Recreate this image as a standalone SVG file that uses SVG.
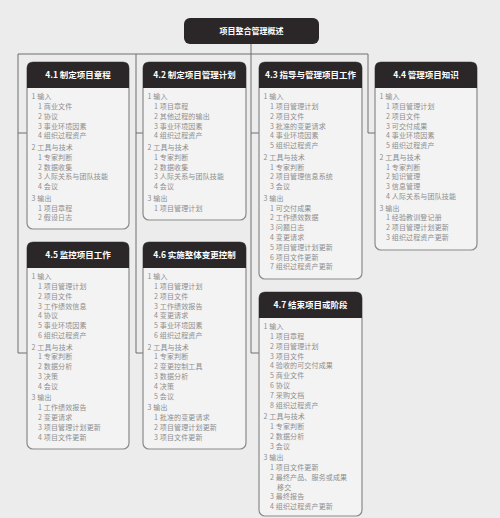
<svg xmlns="http://www.w3.org/2000/svg" width="500" height="518" viewBox="0 0 500 518">
<style>
.bg{fill:#ececec}
.body{fill:#f3f3f3;stroke:#8a8a8a;stroke-width:1.2}
.head{fill:#2b2628}
.ht{font-family:"Noto Sans CJK SC","Noto Sans",sans-serif;font-size:8.5px;font-weight:bold;fill:#ffffff;text-anchor:middle}
.tt{font-family:"Noto Sans CJK SC","Noto Sans",sans-serif;font-size:8px;font-weight:bold;fill:#ffffff;text-anchor:middle}
.t{font-family:"Noto Sans CJK SC","Noto Sans",sans-serif;font-size:7px;fill:#8e8e8e;letter-spacing:0.15px}
.conn{fill:none;stroke:#6e6e6e;stroke-width:1}
</style>
<rect class="bg" x="0" y="0" width="500" height="518"/>

<g id="connectors">
<path class="conn" d="M251,44V54M18,54H368"/>
<path class="conn" d="M18,54V353H27M18,133H27"/>
<path class="conn" d="M136,54V353H143M136,133H143"/>
<path class="conn" d="M251,54V353H259M251,133H259"/>
<path class="conn" d="M368,54V133H375"/>
</g>

<g id="title">
<rect class="head" x="184" y="18" width="135" height="26" rx="6"/>
<text class="tt" x="251.5" y="34">项目整合管理概述</text>
</g>

<g id="n41" transform="translate(27,62)">
<rect class="body" x="0" y="0" width="102" height="167" rx="6"/>
<path class="head" d="M0,26V6Q0,0 6,0H96Q102,0 102,6V26Z"/>
<text class="ht" x="51" y="16">4.1 制定项目章程</text>
<text class="t" x="4.5" y="37.2">1 输入</text>
<text class="t" x="11" y="47">1 商业文件</text>
<text class="t" x="11" y="56.8">2 协议</text>
<text class="t" x="11" y="66.6">3 事业环境因素</text>
<text class="t" x="11" y="76.4">4 组织过程资产</text>
<text class="t" x="4.5" y="88">2 工具与技术</text>
<text class="t" x="11" y="97.8">1 专家判断</text>
<text class="t" x="11" y="107.6">2 数据收集</text>
<text class="t" x="11" y="117.4">3 人际关系与团队技能</text>
<text class="t" x="11" y="127.2">4 会议</text>
<text class="t" x="4.5" y="138.8">3 输出</text>
<text class="t" x="11" y="148.6">1 项目章程</text>
<text class="t" x="11" y="158.4">2 假设日志</text>
</g>

<g id="n42" transform="translate(143,62)">
<rect class="body" x="0" y="0" width="103" height="158" rx="6"/>
<path class="head" d="M0,26V6Q0,0 6,0H97Q103,0 103,6V26Z"/>
<text class="ht" x="51.5" y="16">4.2 制定项目管理计划</text>
<text class="t" x="4.5" y="37.2">1 输入</text>
<text class="t" x="11" y="47">1 项目章程</text>
<text class="t" x="11" y="56.8">2 其他过程的输出</text>
<text class="t" x="11" y="66.6">3 事业环境因素</text>
<text class="t" x="11" y="76.4">4 组织过程资产</text>
<text class="t" x="4.5" y="88">2 工具与技术</text>
<text class="t" x="11" y="97.8">1 专家判断</text>
<text class="t" x="11" y="107.6">2 数据收集</text>
<text class="t" x="11" y="117.4">3 人际关系与团队技能</text>
<text class="t" x="11" y="127.2">4 会议</text>
<text class="t" x="4.5" y="138.8">3 输出</text>
<text class="t" x="11" y="148.6">1 项目管理计划</text>
</g>

<g id="n43" transform="translate(259,62)">
<rect class="body" x="0" y="0" width="103" height="217" rx="6"/>
<path class="head" d="M0,26V6Q0,0 6,0H97Q103,0 103,6V26Z"/>
<text class="ht" x="51.5" y="16">4.3 指导与管理项目工作</text>
<text class="t" x="4.5" y="37.2">1 输入</text>
<text class="t" x="11" y="47">1 项目管理计划</text>
<text class="t" x="11" y="56.8">2 项目文件</text>
<text class="t" x="11" y="66.6">3 批准的变更请求</text>
<text class="t" x="11" y="76.4">4 事业环境因素</text>
<text class="t" x="11" y="86.2">5 组织过程资产</text>
<text class="t" x="4.5" y="97.8">2 工具与技术</text>
<text class="t" x="11" y="107.6">1 专家判断</text>
<text class="t" x="11" y="117.4">2 项目管理信息系统</text>
<text class="t" x="11" y="127.2">3 会议</text>
<text class="t" x="4.5" y="138.8">3 输出</text>
<text class="t" x="11" y="148.6">1 可交付成果</text>
<text class="t" x="11" y="158.4">2 工作绩效数据</text>
<text class="t" x="11" y="168.2">3 问题日志</text>
<text class="t" x="11" y="178">4 变更请求</text>
<text class="t" x="11" y="187.8">5 项目管理计划更新</text>
<text class="t" x="11" y="197.6">6 项目文件更新</text>
<text class="t" x="11" y="207.4">7 组织过程资产更新</text>
</g>

<g id="n44" transform="translate(375,62)">
<rect class="body" x="0" y="0" width="102" height="188" rx="6"/>
<path class="head" d="M0,26V6Q0,0 6,0H96Q102,0 102,6V26Z"/>
<text class="ht" x="51" y="16">4.4 管理项目知识</text>
<text class="t" x="4.5" y="37.2">1 输入</text>
<text class="t" x="11" y="47">1 项目管理计划</text>
<text class="t" x="11" y="56.8">2 项目文件</text>
<text class="t" x="11" y="66.6">3 可交付成果</text>
<text class="t" x="11" y="76.4">4 事业环境因素</text>
<text class="t" x="11" y="86.2">5 组织过程资产</text>
<text class="t" x="4.5" y="97.8">2 工具与技术</text>
<text class="t" x="11" y="107.6">1 专家判断</text>
<text class="t" x="11" y="117.4">2 知识管理</text>
<text class="t" x="11" y="127.2">3 信息管理</text>
<text class="t" x="11" y="137">4 人际关系与团队技能</text>
<text class="t" x="4.5" y="148.6">3 输出</text>
<text class="t" x="11" y="158.4">1 经验教训登记册</text>
<text class="t" x="11" y="168.2">2 项目管理计划更新</text>
<text class="t" x="11" y="178">3 组织过程资产更新</text>
</g>

<g id="n45" transform="translate(27,242)">
<rect class="body" x="0" y="0" width="102" height="207" rx="6"/>
<path class="head" d="M0,26V6Q0,0 6,0H96Q102,0 102,6V26Z"/>
<text class="ht" x="51" y="16">4.5 监控项目工作</text>
<text class="t" x="4.5" y="37.2">1 输入</text>
<text class="t" x="11" y="47">1 项目管理计划</text>
<text class="t" x="11" y="56.8">2 项目文件</text>
<text class="t" x="11" y="66.6">3 工作绩效信息</text>
<text class="t" x="11" y="76.4">4 协议</text>
<text class="t" x="11" y="86.2">5 事业环境因素</text>
<text class="t" x="11" y="96">6 组织过程资产</text>
<text class="t" x="4.5" y="107.6">2 工具与技术</text>
<text class="t" x="11" y="117.4">1 专家判断</text>
<text class="t" x="11" y="127.2">2 数据分析</text>
<text class="t" x="11" y="137">3 决策</text>
<text class="t" x="11" y="146.8">4 会议</text>
<text class="t" x="4.5" y="158.4">3 输出</text>
<text class="t" x="11" y="168.2">1 工作绩效报告</text>
<text class="t" x="11" y="178">2 变更请求</text>
<text class="t" x="11" y="187.8">3 项目管理计划更新</text>
<text class="t" x="11" y="197.6">4 项目文件更新</text>
</g>

<g id="n46" transform="translate(143,242)">
<rect class="body" x="0" y="0" width="103" height="207" rx="6"/>
<path class="head" d="M0,26V6Q0,0 6,0H97Q103,0 103,6V26Z"/>
<text class="ht" x="51.5" y="16">4.6 实施整体变更控制</text>
<text class="t" x="4.5" y="37.2">1 输入</text>
<text class="t" x="11" y="47">1 项目管理计划</text>
<text class="t" x="11" y="56.8">2 项目文件</text>
<text class="t" x="11" y="66.6">3 工作绩效报告</text>
<text class="t" x="11" y="76.4">4 变更请求</text>
<text class="t" x="11" y="86.2">5 事业环境因素</text>
<text class="t" x="11" y="96">6 组织过程资产</text>
<text class="t" x="4.5" y="107.6">2 工具与技术</text>
<text class="t" x="11" y="117.4">1 专家判断</text>
<text class="t" x="11" y="127.2">2 变更控制工具</text>
<text class="t" x="11" y="137">3 数据分析</text>
<text class="t" x="11" y="146.8">4 决策</text>
<text class="t" x="11" y="156.6">5 会议</text>
<text class="t" x="4.5" y="168.2">3 输出</text>
<text class="t" x="11" y="178">1 批准的变更请求</text>
<text class="t" x="11" y="187.8">2 项目管理计划更新</text>
<text class="t" x="11" y="197.6">3 项目文件更新</text>
</g>

<g id="n47" transform="translate(259,292)">
<rect class="body" x="0" y="0" width="103" height="224" rx="6"/>
<path class="head" d="M0,26V6Q0,0 6,0H97Q103,0 103,6V26Z"/>
<text class="ht" x="51.5" y="16">4.7 结束项目或阶段</text>
<text class="t" x="4.5" y="37.2">1 输入</text>
<text class="t" x="11" y="47">1 项目章程</text>
<text class="t" x="11" y="56.8">2 项目管理计划</text>
<text class="t" x="11" y="66.6">3 项目文件</text>
<text class="t" x="11" y="76.4">4 验收的可交付成果</text>
<text class="t" x="11" y="86.2">5 商业文件</text>
<text class="t" x="11" y="96">6 协议</text>
<text class="t" x="11" y="105.8">7 采购文档</text>
<text class="t" x="11" y="115.6">8 组织过程资产</text>
<text class="t" x="4.5" y="127.2">2 工具与技术</text>
<text class="t" x="11" y="137">1 专家判断</text>
<text class="t" x="11" y="146.8">2 数据分析</text>
<text class="t" x="11" y="156.6">3 会议</text>
<text class="t" x="4.5" y="168.2">3 输出</text>
<text class="t" x="11" y="178">1 项目文件更新</text>
<text class="t" x="11" y="187.8">2 最终产品、服务或成果</text>
<text class="t" x="18" y="197.6">移交</text>
<text class="t" x="11" y="207.4">3 最终报告</text>
<text class="t" x="11" y="217.2">4 组织过程资产更新</text>
</g>
</svg>
